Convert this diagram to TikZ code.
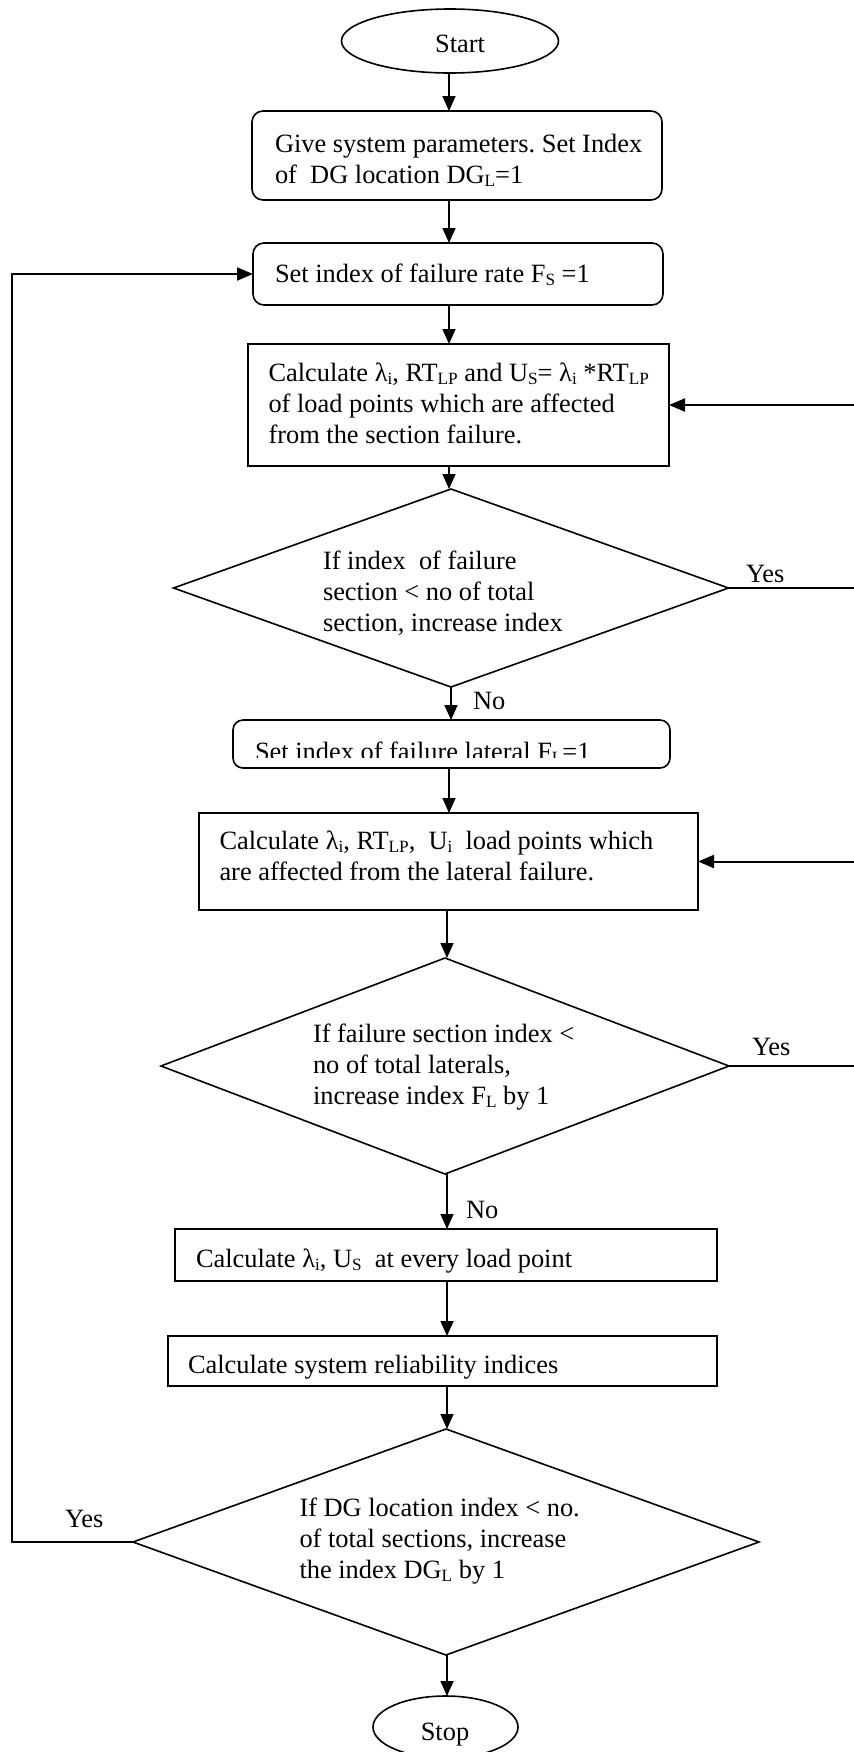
\documentclass[tikz,border=0pt]{standalone}
\usepackage{fontspec}
\setmainfont{Liberation Serif}
\usetikzlibrary{shapes.geometric,arrows.meta}
\frenchspacing
\newcommand\subt[1]{\raisebox{-1.6pt}{\fontsize{8.6pt}{9pt}\selectfont #1}}
\newcommand\tlines[1]{\begin{tabular}[t]{@{}l@{}}#1\end{tabular}}
\begin{document}
\begin{tikzpicture}[x=0.5pt,y=-0.5pt,
  font=\fontsize{13.2pt}{15.5pt}\selectfont,
  shp/.style={draw,line width=0.8pt,inner sep=0pt,outer sep=0pt},
  rbox/.style={shp,rectangle,rounded corners=5.5pt},
  sbox/.style={shp,rectangle},
  dia/.style={shp,diamond},
  oval/.style={shp,ellipse},
  txt/.style={inner sep=0pt,outer sep=0pt,anchor=base west},
  arr/.style={line width=0.8pt,-{Triangle[length=7.5pt,width=6.5pt]}},
  looparr/.style={line width=1pt,-{Triangle[length=8pt,width=6.5pt]}}]
\useasboundingbox (0,0) rectangle (854,1752);
% axes and loop rails
\coordinate (ax) at (449,0);
\coordinate (bx) at (447,0);
\coordinate (rr) at (858,0);
\coordinate (ll) at (12,0);
% shapes
\node[oval,minimum width=108.5pt,minimum height=32pt] (start) at (450,41) {};
\node[rbox,minimum width=205pt,minimum height=44.5pt] (box1) at (457,155.5) {};
\node[rbox,minimum width=205pt,minimum height=31pt] (box2) at (458,274) {};
\node[sbox,minimum width=210.5pt,minimum height=61pt] (box3) at (458.5,405) {};
\node[dia,minimum width=277.5pt,minimum height=99pt] (d1) at (451,588) {};
\node[rbox,rounded corners=5pt,minimum width=218.5pt,minimum height=24pt] (box4) at (451.5,744) {};
\node[sbox,minimum width=249.5pt,minimum height=48.5pt] (box5) at (448.5,861.5) {};
\node[dia,minimum width=284pt,minimum height=108pt] (d2) at (445,1066) {};
\node[sbox,minimum width=271pt,minimum height=26pt] (box6) at (446,1255) {};
\node[sbox,minimum width=274.5pt,minimum height=25pt] (box7) at (442.5,1361) {};
\node[dia,minimum width=313pt,minimum height=113pt] (d3) at (446,1542) {};
\node[oval,minimum width=72.5pt,minimum height=31pt] (stop) at (445.5,1727) {};
% texts
\node[inner sep=0pt,anchor=base] (startt) at (460,52) {Start};
\node[txt] (t1) at (275,152) {\tlines{Give system parameters. Set Index\\of\ \ DG location DG\subt{L}=1}};
\node[txt] (t2) at (275,282) {Set index of failure rate F\subt{S} =1};
\node[txt] (t3) at (268.5,381) {\tlines{Calculate λ\subt{i}, RT\subt{LP} and U\subt{S}= λ\subt{i} *RT\subt{LP}\\of load points which are affected\\from the section failure.}};
\node[txt] (td1) at (323,569) {\tlines{If index\ \ of failure\\section < no of total\\section, increase index}};
\begin{scope}
  \clip (box4.north west) rectangle (box4.east |- 0,757);
  \node[txt] (t4) at (255,760) {Set index of failure lateral F\subt{L}=1};
\end{scope}
\node[txt] (t5) at (219.5,849) {\tlines{Calculate λ\subt{i}, RT\subt{LP},\ \ U\subt{i}\ \ load points which\\are affected from the lateral failure.}};
\node[txt] (td2) at (313,1042) {\tlines{If failure section index <\\no of total laterals,\\increase index F\subt{L} by 1}};
\node[txt] (t6) at (196,1267) {Calculate λ\subt{i}, U\subt{S}\ \ at every load point};
\node[txt] (t7) at (188,1373) {Calculate system reliability indices};
\node[txt] (td3) at (299.5,1516) {\tlines{If DG location index < no.\\of total sections, increase\\the index DG\subt{L} by 1}};
\node[inner sep=0pt,anchor=base] (stopt) at (445,1740) {Stop};
% labels
\node[txt] (yes1) at (746,582) {Yes};
\node[txt] (no1) at (473,709) {No};
\node[txt] (yes2) at (752,1055) {Yes};
\node[txt] (no2) at (466,1218) {No};
\node[txt] (yes3) at (65,1527) {Yes};
% main flow
\draw[arr] (ax |- start.south) -- (ax |- box1.north);
\draw[arr] (ax |- box1.south) -- (ax |- box2.north);
\draw[arr] (ax |- box2.south) -- (ax |- box3.north);
\draw[arr] (ax |- box3.south) -- (ax |- d1.north);
\draw[arr] (d1.south) -- (d1.south |- box4.north);
\draw[arr] (ax |- box4.south) -- (ax |- box5.north);
\draw[arr] (bx |- box5.south) -- (bx |- d2.north);
\draw[arr] (bx |- d2.south) -- (bx |- box6.north);
\draw[arr] (bx |- box6.south) -- (bx |- box7.north);
\draw[arr] (bx |- box7.south) -- (bx |- d3.north);
\draw[arr] (bx |- d3.south) -- (bx |- stop.north);
% loops
\draw[looparr] (d1.east) -- (rr |- d1.east) -- (rr |- box3.east) -- (box3.east);
\draw[looparr] (d2.east) -- (rr |- d2.east) -- (rr |- box5.east) -- (box5.east);
\draw[looparr] (d3.west) -- (ll |- d3.west) -- (ll |- box2.west) -- (box2.west);
\end{tikzpicture}
\end{document}
